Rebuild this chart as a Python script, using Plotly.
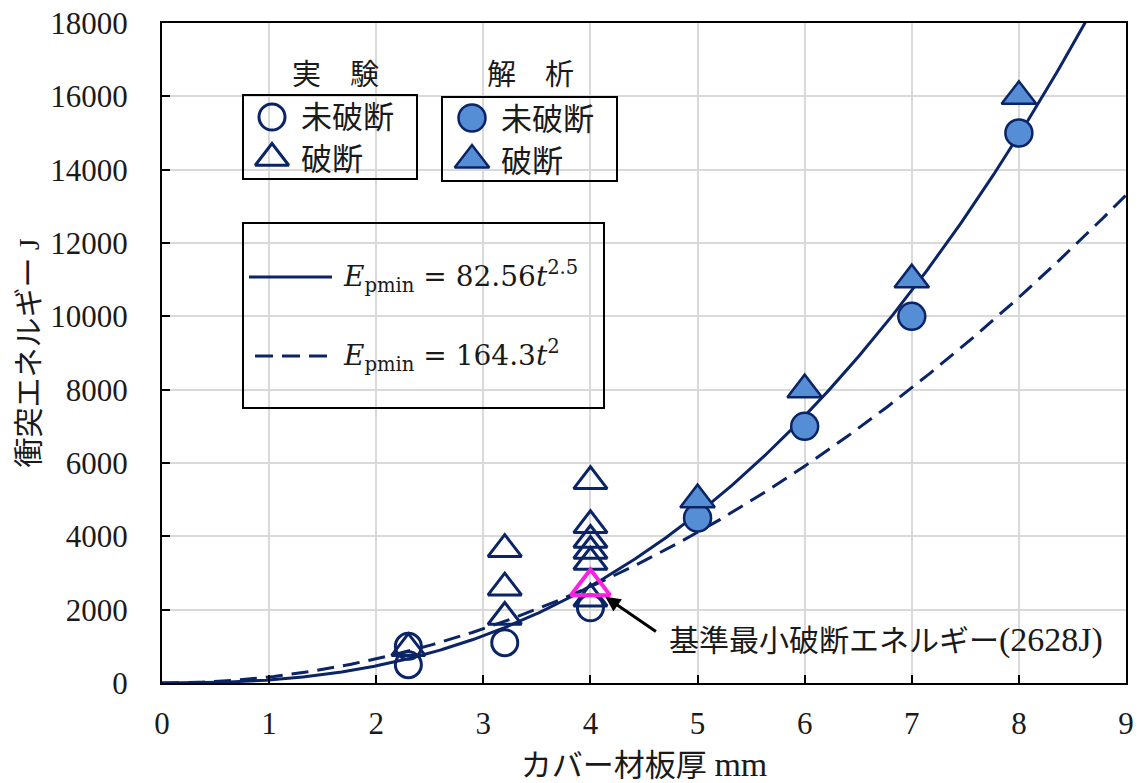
import numpy as np
import plotly.graph_objects as go

# ---- data -------------------------------------------------------------
# 実験 (experiment): 未破断 = not fractured, 破断 = fractured
exp_unbroken_t = [2.3, 2.3, 3.2, 4.0]
exp_unbroken_E = [1000, 500, 1100, 2050]
exp_broken_t = [2.3, 3.2, 3.2, 3.2, 4.0, 4.0, 4.0, 4.0, 4.0, 4.0]
exp_broken_E = [950, 1800, 2600, 3650, 2300, 3300, 3600, 3900, 4300, 5500]

# 解析 (analysis)
ana_unbroken_t = [5, 6, 7, 8]
ana_unbroken_E = [4500, 7000, 10000, 15000]
ana_broken_t = [5, 6, 7, 8]
ana_broken_E = [5000, 8000, 11000, 16000]

# reference minimum fracture energy
ref_t = [4.0]
ref_E = [2628]

# fitted curves E = a * t^n
coef_solid, exp_solid = 82.56, 2.5
coef_dash, exp_dash = 164.3, 2.0

x_ticks = [0, 1, 2, 3, 4, 5, 6, 7, 8, 9]
y_ticks = [0, 2000, 4000, 6000, 8000, 10000, 12000, 14000, 16000, 18000]

# ---- styling ---------------------------------------------------------
NAVY = "#0B2466"
FILL = "#558ED5"
MAGENTA = "#FF1FE0"
GRID = "#D9D9D9"
TXT = "#1a1a1a"
FONT = "Liberation Serif, Noto Sans CJK JP, serif"

W, H = 1144, 783
L, R, T, B = 162, 18, 23, 100
PW, PH = W - L - R, H - T - B


def px(x):
    """pixel column -> paper x"""
    return (x - L) / PW


def py(y):
    """pixel row -> paper y"""
    return (H - B - y) / PH


t = np.linspace(0, 9, 500)

fig = go.Figure()

fig.add_trace(go.Scatter(x=t, y=coef_solid * t ** exp_solid, mode="lines",
                         line=dict(color=NAVY, width=3), hoverinfo="skip"))
fig.add_trace(go.Scatter(x=t, y=coef_dash * t ** exp_dash, mode="lines",
                         line=dict(color=NAVY, width=3, dash="17px,9px"),
                         hoverinfo="skip"))

open_line = dict(color=NAVY, width=3)
fig.add_trace(go.Scatter(x=exp_unbroken_t, y=exp_unbroken_E, mode="markers",
                         marker=dict(symbol="circle-open", size=26, line=open_line, color=NAVY)))
fig.add_trace(go.Scatter(x=exp_broken_t, y=exp_broken_E, mode="markers",
                         marker=dict(symbol="triangle-up-open", size=29, line=open_line, color=NAVY)))
fig.add_trace(go.Scatter(x=ana_unbroken_t, y=ana_unbroken_E, mode="markers",
                         marker=dict(symbol="circle", size=27, color=FILL,
                                     line=dict(color=NAVY, width=2.5))))
fig.add_trace(go.Scatter(x=ana_broken_t, y=ana_broken_E, mode="markers",
                         marker=dict(symbol="triangle-up", size=30, color=FILL,
                                     line=dict(color=NAVY, width=2.5))))
fig.add_trace(go.Scatter(x=ref_t, y=ref_E, mode="markers",
                         marker=dict(symbol="triangle-up-open", size=34, color=MAGENTA,
                                     line=dict(color=MAGENTA, width=4))))

# ---- legend boxes (drawn on a paper-unit overlay axis) ---------------
boxes = [(243, 95, 417, 179), (442, 97, 617, 181), (243, 223, 604, 408)]
shapes = []
for x0, y0, x1, y1 in boxes:
    shapes.append(dict(type="rect", xref="paper", yref="paper",
                       x0=px(x0), x1=px(x1), y0=py(y1), y1=py(y0),
                       fillcolor="white", line=dict(width=0), layer="between"))
    shapes.append(dict(type="rect", xref="paper", yref="paper",
                       x0=px(x0), x1=px(x1), y0=py(y1), y1=py(y0),
                       fillcolor="rgba(0,0,0,0)", line=dict(color="black", width=2),
                       layer="above"))

legend_marks = [
    (272, 117, "circle-open", 26, NAVY, 3),
    (272, 158, "triangle-up-open", 29, NAVY, 3),
    (472, 118, "circle", 27, FILL, 2.5),
    (472, 160, "triangle-up", 30, FILL, 2.5),
]
for x, y, sym, size, col, lw in legend_marks:
    fig.add_trace(go.Scatter(x=[px(x)], y=[py(y)], xaxis="x2", yaxis="y2", mode="markers",
                             marker=dict(symbol=sym, size=size, color=col,
                                         line=dict(color=NAVY, width=lw)),
                             hoverinfo="skip"))

fig.add_trace(go.Scatter(x=[px(249), px(332)], y=[py(277), py(277)], xaxis="x2", yaxis="y2",
                         mode="lines", line=dict(color=NAVY, width=3), hoverinfo="skip"))
fig.add_trace(go.Scatter(x=[px(255), px(328)], y=[py(356), py(356)], xaxis="x2", yaxis="y2",
                         mode="lines", line=dict(color=NAVY, width=3, dash="18px,9px"),
                         hoverinfo="skip"))

annotations = []


def label(text, x, y, size=31, xanchor="left", family=FONT):
    annotations.append(dict(text=text, x=px(x), y=py(y), xref="paper", yref="paper",
                            xanchor=xanchor, yanchor="middle", showarrow=False,
                            font=dict(family=family, size=size, color=TXT)))


label("実　験", 335, 75, size=29, xanchor="center")
label("解　析", 530, 75, size=29, xanchor="center")
label("未破断", 299, 118)
label("破断", 299, 159)
label("未破断", 499, 119)
label("破断", 499, 161)
label(f"<i>E</i><sub>pmin</sub> = {coef_solid}<i>t</i><sup>{exp_solid}</sup>", 341, 276, size=28,
      family="DejaVu Serif")
label(f"<i>E</i><sub>pmin</sub> = {coef_dash}<i>t</i><sup>{int(exp_dash)}</sup>", 341, 355, size=28,
      family="DejaVu Serif")
label(f"基準最小破断エネルギー<span style='font-size:34px'>({ref_E[0]}J)</span>", 667, 640, size=30)

annotations.append(dict(x=ref_t[0], y=ref_E[0], xref="x", yref="y", text="",
                        showarrow=True, ax=67, ay=46, arrowhead=2, arrowsize=1,
                        arrowwidth=3, arrowcolor="black", standoff=18))

axis_common = dict(showgrid=True, gridcolor=GRID, gridwidth=2, zeroline=False,
                   showline=True, linecolor="black", linewidth=2, mirror=True,
                   ticks="inside", ticklen=8, tickwidth=2, tickcolor="black",
                   automargin=False,
                   tickfont=dict(family=FONT, size=31, color=TXT))

fig.update_layout(
    width=W, height=H, autosize=False,
    margin=dict(l=L, r=R, t=T, b=B, pad=0),
    paper_bgcolor="white", plot_bgcolor="white",
    showlegend=False,
    font=dict(family=FONT, color=TXT),
    xaxis=dict(range=[0, 9], tickvals=x_ticks, ticktext=[str(v) for v in x_ticks],
               ticklabelstandoff=12,
               title=dict(text="カバー材板厚 <span style='font-size:34px'>mm</span>",
                          font=dict(family=FONT, size=31), standoff=16),
               **axis_common),
    yaxis=dict(range=[0, 18000], tickvals=y_ticks, ticktext=[str(v) for v in y_ticks],
               ticklabelstandoff=26,
               title=dict(text="衝突エネルギー J", font=dict(family=FONT, size=30), standoff=2),
               **axis_common),
    xaxis2=dict(overlaying="x", range=[0, 1], visible=False, anchor="y2"),
    yaxis2=dict(overlaying="y", range=[0, 1], visible=False, anchor="x2"),
    shapes=shapes,
    annotations=annotations,
)

fig.write_html("out.html")
